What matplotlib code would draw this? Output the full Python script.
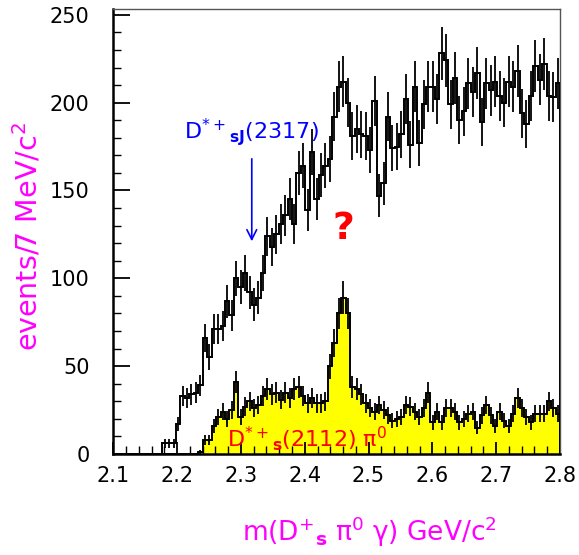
import numpy as np
import matplotlib
matplotlib.use("Agg")
import matplotlib.pyplot as plt

plt.rcParams['font.family'] = ['DejaVu Sans']
plt.rcParams['mathtext.fontset'] = 'dejavusans'

# 7 MeV bins from 2.1 to 2.8 GeV
m_lo, m_hi, n_bins = 2.1, 2.8, 100

# D*s pi0 gamma candidates (black, open histogram)
all_events = [0, 0, 0, 0, 0, 0, 0, 0, 0, 0,
              0, 6, 6, 6, 17, 33, 32, 34, 35, 39,
              66, 55, 71, 71, 73, 87, 79, 100, 95, 103,
              92, 85, 89, 103, 124, 118, 125, 131, 136, 145,
              131, 160, 164, 139, 172, 145, 159, 164, 168, 192,
              209, 212, 200, 181, 185, 182, 181, 173, 201, 147,
              154, 192, 174, 175, 182, 202, 176, 209, 177, 199,
              209, 209, 202, 228, 224, 199, 214, 190, 195, 211,
              206, 217, 189, 211, 207, 212, 204, 200, 212, 209,
              218, 194, 188, 204, 221, 213, 222, 204, 203, 211]

# D*s(2112) pi0 selection (yellow, filled histogram)
dss_events = [0, 0, 0, 0, 0, 0, 0, 0, 0, 0,
              0, 0, 0, 0, 0, 0, 0, 0, 0, 1,
              8, 8, 16, 21, 24, 20, 25, 41, 21, 27,
              30, 26, 28, 33, 37, 34, 35, 31, 35, 32,
              37, 38, 33, 29, 32, 29, 29, 30, 50, 63,
              80, 89, 80, 38, 37, 34, 29, 26, 24, 28,
              25, 22, 19, 20, 21, 28, 27, 24, 21, 26,
              35, 18, 24, 18, 26, 26, 24, 18, 20, 23,
              24, 15, 22, 28, 22, 16, 24, 19, 16, 23,
              32, 26, 21, 18, 23, 23, 23, 30, 26, 23]

edges = np.linspace(m_lo, m_hi, n_bins + 1)
centers = 0.5 * (edges[:-1] + edges[1:])
all_events = np.array(all_events, dtype=float)
dss_events = np.array(dss_events, dtype=float)

fig = plt.figure(figsize=(5.79, 5.55), dpi=100)
ax = fig.add_axes([113.3 / 579, 1 - 454 / 555, 446.7 / 579, 445 / 555])

# filled histogram
ax.stairs(dss_events, edges, fill=True, color='#ffff00', zorder=1)
ax.stairs(dss_events, edges, color='black', lw=1.4, zorder=2)
ok = dss_events > 0
ax.errorbar(centers[ok], dss_events[ok], yerr=np.sqrt(dss_events[ok]),
            fmt='none', ecolor='black', elinewidth=1.3, zorder=2)

# open histogram
ax.stairs(all_events, edges, color='black', lw=1.4, zorder=3)
ok = all_events > 0
ax.errorbar(centers[ok], all_events[ok], yerr=np.sqrt(all_events[ok]),
            fmt='none', ecolor='black', elinewidth=1.3, zorder=3)

ax.set_xlim(m_lo, m_hi)
ax.set_ylim(0, 253.3)
ax.set_xticks(np.arange(2.1, 2.81, 0.1))
ax.set_xticks(np.arange(2.1, 2.81, 0.02), minor=True)
ax.set_yticks(np.arange(0, 251, 50))
ax.set_yticks(np.arange(0, 251, 10), minor=True)
ax.set_xticklabels(['2.1', '2.2', '2.3', '2.4', '2.5', '2.6', '2.7', '2.8'])
ax.tick_params(axis='both', which='both', direction='in', top=False, right=False,
               labelsize=15, color='black')
ax.tick_params(axis='y', which='major', length=12.5, width=1.3, pad=17)
ax.tick_params(axis='y', which='minor', length=5.8, width=1.0)
ax.tick_params(axis='x', which='major', length=9, width=1.3, pad=9)
ax.tick_params(axis='x', which='minor', length=5.5, width=1.0)

for side in ['left', 'bottom']:
    ax.spines[side].set_linewidth(1.8)
    ax.spines[side].set_color('black')
for side in ['top', 'right']:
    ax.spines[side].set_linewidth(1.0)
    ax.spines[side].set_color('#555555')
ax.spines['bottom'].set_zorder(5)

# annotations
ax.text(2.3165, 179.7, r'D$^{*+}$$_{\mathbf{sJ}}$(2317)', color='#0000ff',
        fontsize=16, ha='center', va='baseline', zorder=6)
ax.annotate('', xy=(2.317, 119.5), xytext=(2.317, 169.6),
            arrowprops=dict(arrowstyle='->,head_length=0.7,head_width=0.35',
                            color='#0000ff', lw=1.2))
ax.text(2.461, 127.8, '?', color='#ff0000', fontsize=27, fontweight='bold',
        ha='center', va='center', zorder=6)
ax.text(2.2777, 4.2, r'D$^{*+}$$_{\mathbf{s}}$(2112) π$^{0}$', color='#ff0000',
        fontsize=16, ha='left', va='baseline', zorder=6)

fig.text(369 / 579, 1 - 532 / 555, r'm(D$^{+}$$_{\mathbf{s}}$ π$^{0}$ γ) GeV/c$^{2}$',
         color='#ff00ff', fontsize=19, ha='center', va='center')
fig.text(28 / 579, 1 - 236.5 / 555, r'events/7 MeV/c$^{2}$', color='#ff00ff',
         fontsize=20.5, rotation=90, ha='center', va='center')

fig.savefig('out.png', dpi=100)
